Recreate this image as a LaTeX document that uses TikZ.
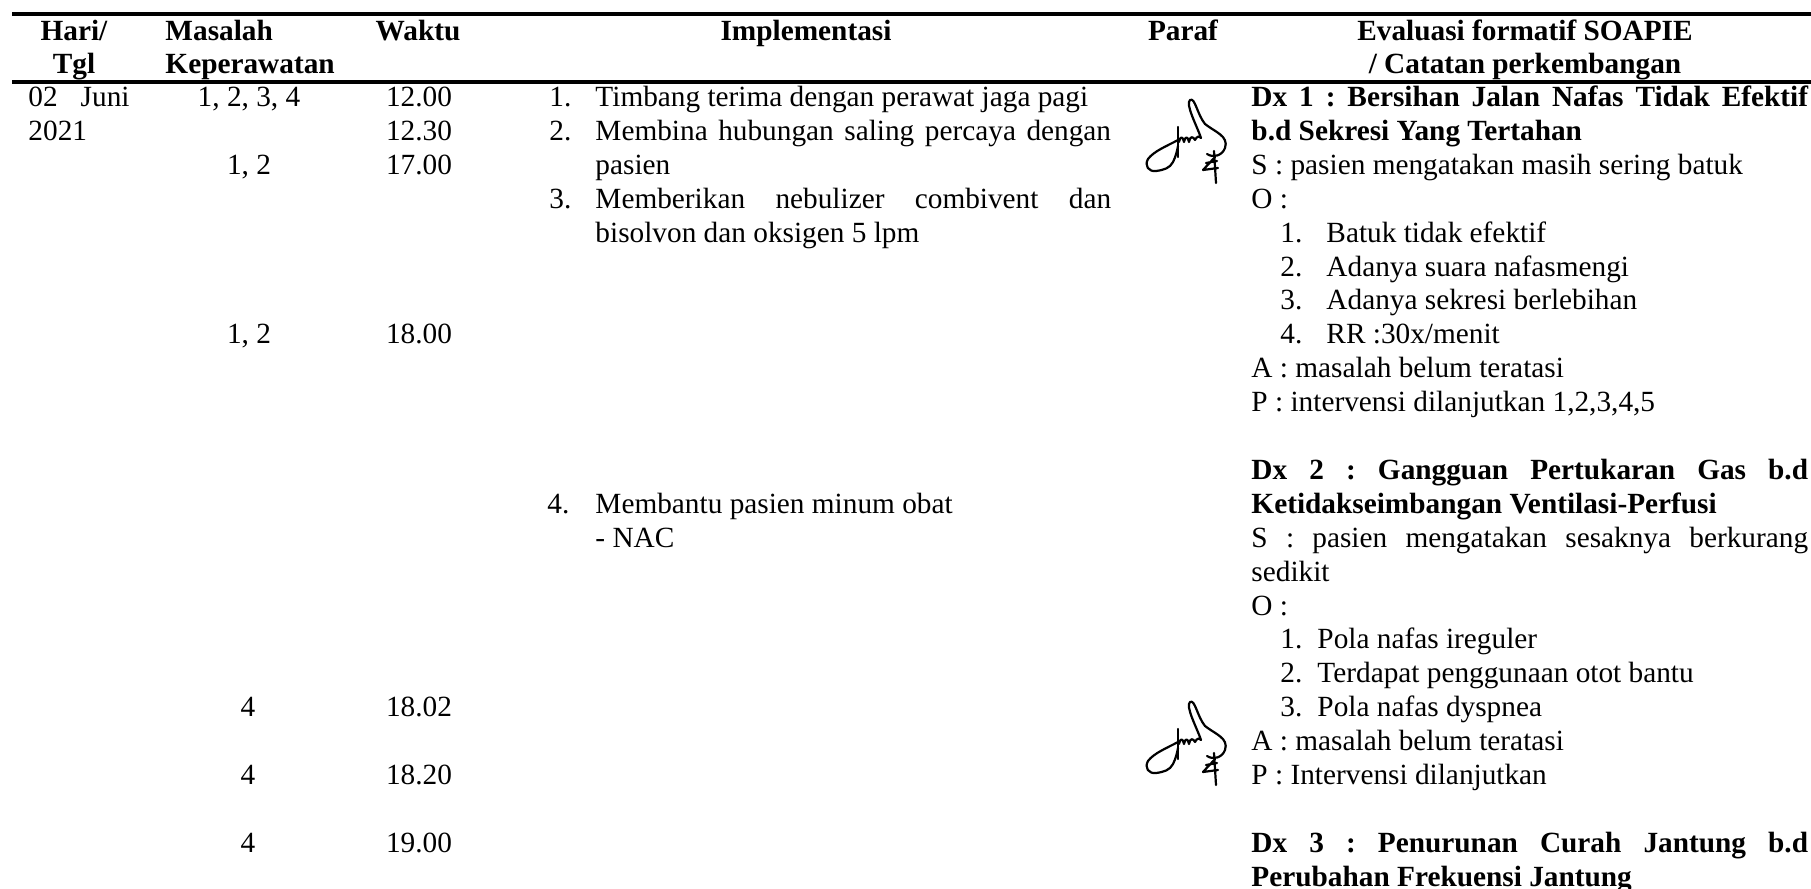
\documentclass[tikz,border=0pt]{standalone}
\usepackage{fontspec}
\setmainfont{Liberation Serif}
\usepackage{tikz}

\tikzset{
  paraf/.pic={
    % stem and left loop
    \draw[line width=0.9pt, line cap=round, line join=round]
      (33,31) -- (33,61);
    \draw[line width=0.9pt, line cap=round, line join=round]
      (33,44) .. controls (22,50) and (9,55) .. (3,63)
      .. controls (-1,70) and (4,76) .. (11,75)
      .. controls (19,74) and (25,72) .. (28,66)
      .. controls (31,60) and (32,55) .. (33,50);
    % humps, tall loop and bulge
    \draw[line width=0.9pt, line cap=round, line join=round]
      (34,46) .. controls (35,40) and (38,40) .. (39,46)
      .. controls (40,40) and (43,40) .. (44,46)
      .. controls (45,40) and (48,40) .. (50,44)
      .. controls (52,40) and (54,40) .. (56,42)
      .. controls (52,30) and (40,8) .. (45,4)
      .. controls (50,1) and (52,18) .. (60,28)
      .. controls (70,36) and (84,40) .. (80,52)
      .. controls (77,60) and (68,62) .. (62,58);
    % the 4
    \draw[line width=0.9pt, line cap=round, line join=round]
      (70,61) -- (58,74) -- (73,72) (61,67) -- (72,65) (69,55) -- (71,87);
  }
}

\begin{document}
\frenchspacing
\begin{tikzpicture}[x=0.4096pt, y=-0.4096pt, font=\fontsize{12pt}{14pt}\selectfont,
  cell/.style={anchor=base west, inner sep=0pt},
  mid/.style={anchor=base, inner sep=0pt},
  bold/.style={font=\fontsize{12pt}{14pt}\selectfont\bfseries},
  rule/.style={line width=1.25pt}]
  \useasboundingbox (0,0) rectangle (1811,889);

  % Rules
  \draw[rule] (12,14) -- (1811,14);
  \draw[rule] (12,82) -- (1811,82);

  % Header
  \node[mid, bold] (hari) at (74,41) {Hari/};
  \node[mid, bold] (tgl) at (74,73) {Tgl};
  \node[cell, bold] (masalah) at (165,41) {Masalah};
  \node[cell, bold] (keperawatan) at (165,73) {Keperawatan};
  \node[mid, bold] (waktu) at (418,41) {Waktu};
  \node[mid, bold] (implementasi) at (806,41) {Implementasi};
  \node[mid, bold] (paraf) at (1183,41) {Paraf};
  \node[mid, bold] (evaluasi) at (1525,41) {Evaluasi formatif SOAPIE};
  \node[mid, bold] (catatan) at (1525,73) {/ Catatan perkembangan};

  % Hari/Tgl, masalah, waktu
  \node[cell] (tanggal) at (28,106) {\makebox[3.45em][s]{02 Juni}};
  \node[cell] (tahun) at (28,140) {2021};
  \node[mid] (mk1) at (249,106) {1, 2, 3, 4};
  \node[mid] (mk2) at (249,174) {1, 2};
  \node[mid] (mk3) at (249,343) {1, 2};
  \node[mid] (mk4) at (248,716) {4};
  \node[mid] (mk5) at (248,784) {4};
  \node[mid] (mk6) at (248,852) {4};
  \node[mid] (jam1) at (419,106) {12.00};
  \node[mid] (jam2) at (419,140) {12.30};
  \node[mid] (jam3) at (419,174) {17.00};
  \node[mid] (jam4) at (419,343) {18.00};
  \node[mid] (jam5) at (419,716) {18.02};
  \node[mid] (jam6) at (419,784) {18.20};
  \node[mid] (jam7) at (419,852) {19.00};

  % Implementasi
  \node[cell] (no1) at (549,106) {1.};
  \node[cell] (tin1) at (595,106) {Timbang terima dengan perawat jaga pagi};
  \node[cell] (no2) at (549,140) {2.};
  \node[cell] (tin2) at (595,140) {\makebox[17.6em][s]{Membina hubungan saling percaya dengan}};
  \node[cell] (tin2b) at (595,174) {pasien};
  \node[cell] (no3) at (549,208) {3.};
  \node[cell] (tin3) at (595,208) {\makebox[17.6em][s]{Memberikan nebulizer combivent dan}};
  \node[cell] (tin3b) at (595,242) {bisolvon dan oksigen 5 lpm};
  \node[cell] (no4) at (547,513) {4.};
  \node[cell] (tin4) at (595,513) {Membantu pasien minum obat};
  \node[cell] (tin4b) at (595,547) {- NAC};

  % Paraf
  \pic (sig1) at (1145,96) {paraf};
  \pic (sig2) at (1145,698) {paraf};

  % SOAPIE, Dx 1
  \node[cell, bold] (dx1) at (1251,106) {\makebox[19em][s]{Dx 1 : Bersihan Jalan Nafas Tidak Efektif}};
  \node[cell, bold] (dx1b) at (1251,140) {b.d Sekresi Yang Tertahan};
  \node[cell] (s1) at (1251,174) {S : pasien mengatakan masih sering batuk};
  \node[cell] (o1) at (1251,208) {O :};
  \node[cell] (o1n1) at (1280,242) {1.};
  \node[cell] (o1t1) at (1326,242) {Batuk tidak efektif};
  \node[cell] (o1n2) at (1280,276) {2.};
  \node[cell] (o1t2) at (1326,276) {Adanya suara nafasmengi};
  \node[cell] (o1n3) at (1280,309) {3.};
  \node[cell] (o1t3) at (1326,309) {Adanya sekresi berlebihan};
  \node[cell] (o1n4) at (1280,343) {4.};
  \node[cell] (o1t4) at (1326,343) {RR :30x/menit};
  \node[cell] (a1) at (1251,377) {A : masalah belum teratasi};
  \node[cell] (p1) at (1251,411) {P : intervensi dilanjutkan 1,2,3,4,5};

  % Dx 2
  \node[cell, bold] (dx2) at (1251,479) {\makebox[19em][s]{Dx 2 : Gangguan Pertukaran Gas b.d}};
  \node[cell, bold] (dx2b) at (1251,513) {Ketidakseimbangan Ventilasi-Perfusi};
  \node[cell] (s2) at (1251,547) {\makebox[19em][s]{S : pasien mengatakan sesaknya berkurang}};
  \node[cell] (s2b) at (1251,581) {sedikit};
  \node[cell] (o2) at (1251,615) {O :};
  \node[cell] (o2n1) at (1280,648) {1.};
  \node[cell] (o2t1) at (1317,648) {Pola nafas ireguler};
  \node[cell] (o2n2) at (1280,682) {2.};
  \node[cell] (o2t2) at (1317,682) {Terdapat penggunaan otot bantu};
  \node[cell] (o2n3) at (1280,716) {3.};
  \node[cell] (o2t3) at (1317,716) {Pola nafas dyspnea};
  \node[cell] (a2) at (1251,750) {A : masalah belum teratasi};
  \node[cell] (p2) at (1251,784) {P : Intervensi dilanjutkan};

  % Dx 3
  \node[cell, bold] (dx3) at (1251,852) {\makebox[19em][s]{Dx 3 : Penurunan Curah Jantung b.d}};
  \node[cell, bold] (dx3b) at (1251,886) {Perubahan Frekuensi Jantung};

\end{tikzpicture}
\end{document}
